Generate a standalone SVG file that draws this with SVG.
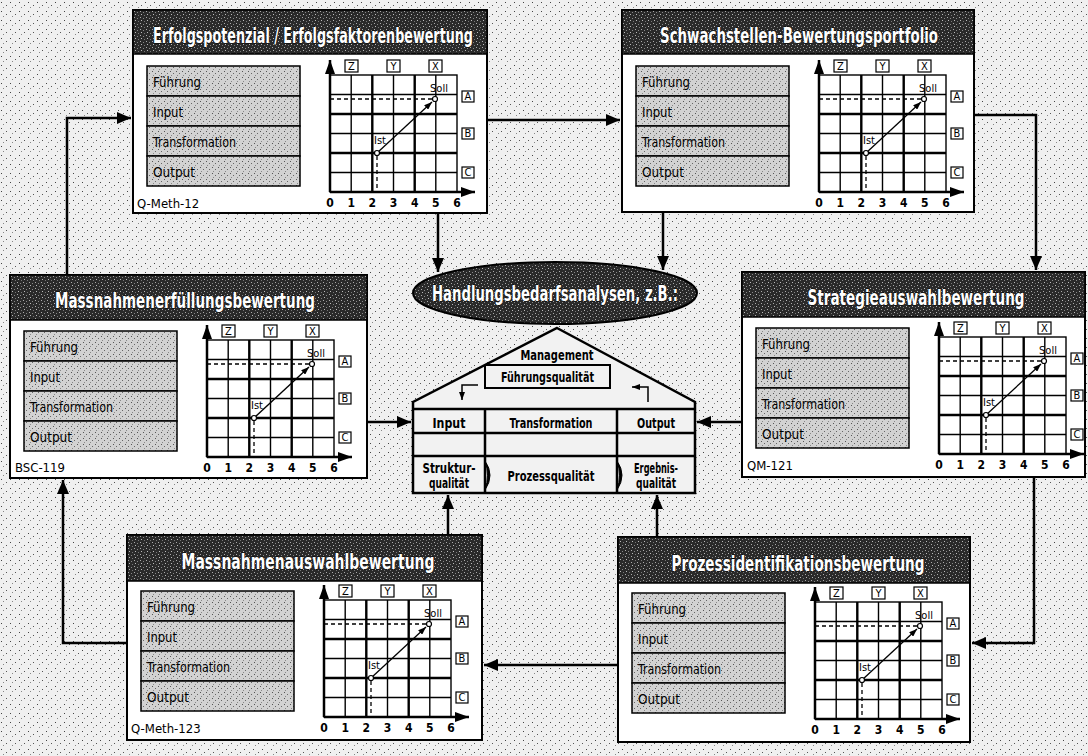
<svg xmlns="http://www.w3.org/2000/svg" xmlns:xlink="http://www.w3.org/1999/xlink" width="1088" height="756" viewBox="0 0 1088 756">
<style>
.txt{font-family:"Liberation Sans Narrow","DejaVu Sans Condensed","Liberation Sans",sans-serif}
.frame{fill:#fff;stroke:#000;stroke-width:2}
.hdr{fill:url(#dk);stroke:#000;stroke-width:1.5}
.title{font-family:"Liberation Sans Narrow","DejaVu Sans Condensed","Liberation Sans",sans-serif;font-weight:bold;font-size:21px;fill:#fff;stroke:#000;stroke-width:1;paint-order:stroke;text-anchor:middle}
.lst{fill:url(#md);stroke:#000;stroke-width:1.5}
.lbl{font-size:14px;fill:#000}
.grid{stroke:#000;stroke-width:1.4;fill:none}
.thick{stroke-width:2.4}
.dash{stroke:#000;stroke-width:1.3;stroke-dasharray:4 3;fill:none}
.box{fill:#fff;stroke:#000;stroke-width:1.2}
.small{font-size:11px;fill:#000}
.mid{text-anchor:middle}
.num{font-size:12px;font-weight:bold;text-anchor:middle;fill:#000}
.foot{font-size:13px;fill:#000}
.conn{stroke:#000;stroke-width:2.5;fill:none}
.hs{font-size:14px;font-weight:bold;fill:#000;text-anchor:middle}
.tl{stroke:#000;stroke-width:2.5;fill:none}
</style>
<defs>
<pattern id="lt" width="9" height="9" patternUnits="userSpaceOnUse">
<rect width="9" height="9" fill="#f0f0f0"/>
<rect x="1" y="2" width="1" height="1" fill="#444"/>
<rect x="6" y="5" width="1" height="1" fill="#555"/>
<rect x="3" y="7" width="1" height="1" fill="#888"/>
</pattern>
<pattern id="md" width="6" height="6" patternUnits="userSpaceOnUse">
<rect width="6" height="6" fill="#d2d2d2"/>
<rect x="1" y="1" width="1" height="1" fill="#555"/>
<rect x="4" y="3" width="1" height="1" fill="#666"/>
<rect x="2" y="5" width="1" height="1" fill="#888"/>
</pattern>
<pattern id="dk" width="6" height="6" patternUnits="userSpaceOnUse">
<rect width="6" height="6" fill="#2a2a2a"/>
<rect x="1" y="1" width="1" height="1" fill="#aaa"/>
<rect x="4" y="2" width="1" height="1" fill="#888"/>
<rect x="2" y="4" width="1" height="1" fill="#bbb"/>
<rect x="5" y="5" width="1" height="1" fill="#777"/>
</pattern>
<marker id="arr" markerUnits="userSpaceOnUse" markerWidth="14" markerHeight="12" refX="14" refY="6" orient="auto">
<path d="M0,0 L14,6 L0,12 Z" fill="#000"/>
</marker>
<marker id="ax" markerUnits="userSpaceOnUse" markerWidth="14" markerHeight="10" refX="14" refY="5" orient="auto">
<path d="M0,0 L14,5 L0,10 Z" fill="#000"/>
</marker>
<marker id="sm" markerUnits="userSpaceOnUse" markerWidth="8" markerHeight="6" refX="8" refY="3" orient="auto">
<path d="M0,0 L8,3 L0,6 Z" fill="#000"/>
</marker>
<g id="body" class="txt">
<rect class="lst" x="14" y="56" width="153" height="30"/>
<rect class="lst" x="14" y="86" width="153" height="30"/>
<rect class="lst" x="14" y="116" width="153" height="30"/>
<rect class="lst" x="14" y="146" width="153" height="30"/>
<text class="lbl" x="20" y="77" textLength="48" lengthAdjust="spacingAndGlyphs">Führung</text>
<text class="lbl" x="20" y="107" textLength="30" lengthAdjust="spacingAndGlyphs">Input</text>
<text class="lbl" x="20" y="137" textLength="83" lengthAdjust="spacingAndGlyphs">Transformation</text>
<text class="lbl" x="20" y="167" textLength="42" lengthAdjust="spacingAndGlyphs">Output</text>
<rect class="grid" x="197" y="65" width="127" height="117"/>
<path class="grid" d="M218.2,65 V182 M260.5,65 V182 M302.8,65 V182 M197,84.5 H324 M197,123.5 H324 M197,162.5 H324"/>
<path class="grid thick" d="M239.3,65 V182 M281.7,65 V182 M197,104 H324 M197,143 H324"/>
<path class="dash" d="M197,89 H299 M244,146 V182"/>
<line x1="197" y1="182" x2="197" y2="50" stroke="#000" stroke-width="2.5" marker-end="url(#ax)"/>
<line x1="197" y1="182" x2="342" y2="182" stroke="#000" stroke-width="2.5" marker-end="url(#ax)"/>
<line x1="244" y1="143" x2="299" y2="92" stroke="#000" stroke-width="1.3" marker-end="url(#sm)"/>
<circle cx="244" cy="143" r="2.5" fill="#fff" stroke="#000" stroke-width="1.2"/>
<circle cx="302" cy="89" r="2.5" fill="#fff" stroke="#000" stroke-width="1.2"/>
<text class="small" x="241" y="134">Ist</text>
<text class="small mid" x="306" y="82">Soll</text>
<rect class="box" x="212" y="50" width="13" height="12"/>
<rect class="box" x="254" y="50" width="13" height="12"/>
<rect class="box" x="296" y="50" width="13" height="12"/>
<text class="small mid" x="218.5" y="60">Z</text>
<text class="small mid" x="260.5" y="60">Y</text>
<text class="small mid" x="302.5" y="60">X</text>
<rect class="box" x="329" y="81" width="12" height="11"/>
<rect class="box" x="329" y="118" width="12" height="11"/>
<rect class="box" x="329" y="157" width="12" height="11"/>
<text class="small mid" x="335" y="90">A</text>
<text class="small mid" x="335" y="127">B</text>
<text class="small mid" x="335" y="166">C</text>
<text class="num" x="197" y="197">0</text>
<text class="num" x="218.2" y="197">1</text>
<text class="num" x="239.3" y="197">2</text>
<text class="num" x="260.5" y="197">3</text>
<text class="num" x="281.7" y="197">4</text>
<text class="num" x="302.8" y="197">5</text>
<text class="num" x="324" y="197">6</text>
</g>
</defs>
<rect width="1088" height="756" fill="url(#lt)"/>

<g id="connectors">
<path class="conn" d="M67,275 V118 H131" marker-end="url(#arr)"/>
<path class="conn" d="M487,120 H620" marker-end="url(#arr)"/>
<path class="conn" d="M974,115 H1036 V270" marker-end="url(#arr)"/>
<path class="conn" d="M1034,477 V643 H972" marker-end="url(#arr)"/>
<path class="conn" d="M618,665 H484" marker-end="url(#arr)"/>
<path class="conn" d="M127,643 H63 V480" marker-end="url(#arr)"/>
<path class="conn" d="M438,213 V272" marker-end="url(#arr)"/>
<path class="conn" d="M663,212 V270" marker-end="url(#arr)"/>
<path class="conn" d="M367,422 H411" marker-end="url(#arr)"/>
<path class="conn" d="M742,422 H697" marker-end="url(#arr)"/>
<path class="conn" d="M448,535 V495" marker-end="url(#arr)"/>
<path class="conn" d="M657,537 V495" marker-end="url(#arr)"/>
</g>

<g id="p1" transform="translate(133,10)">
<rect class="frame" width="354" height="203"/>
<rect class="hdr" width="354" height="44"/>
<text class="title" x="180" y="33" textLength="320" lengthAdjust="spacingAndGlyphs">Erfolgspotenzial / Erfolgsfaktorenbewertung</text>
<use xlink:href="#body" href="#body"/>
<text class="foot txt" x="4" y="198">Q-Meth-12</text>
</g>

<g id="p2" transform="translate(622,10)">
<rect class="frame" width="352" height="202"/>
<rect class="hdr" width="352" height="44"/>
<text class="title" x="177" y="33" textLength="278" lengthAdjust="spacingAndGlyphs">Schwachstellen-Bewertungsportfolio</text>
<use xlink:href="#body" href="#body"/>
</g>

<g id="p3" transform="translate(10,275)">
<rect class="frame" width="357" height="203"/>
<rect class="hdr" width="357" height="45"/>
<text class="title" x="175" y="33" textLength="260" lengthAdjust="spacingAndGlyphs">Massnahmenerfüllungsbewertung</text>
<use xlink:href="#body" href="#body"/>
<text class="foot txt" x="5" y="197">BSC-119</text>
</g>

<g id="p4" transform="translate(742,272)">
<rect class="frame" width="343" height="205"/>
<rect class="hdr" width="343" height="45"/>
<text class="title" x="174" y="33" font-size="20" textLength="217" lengthAdjust="spacingAndGlyphs">Strategieauswahlbewertung</text>
<use xlink:href="#body" href="#body"/>
<text class="foot txt" x="5" y="198">QM-121</text>
</g>

<g id="p5" transform="translate(127,535)">
<rect class="frame" width="355" height="205"/>
<rect class="hdr" width="355" height="46"/>
<text class="title" x="181" y="34" textLength="253" lengthAdjust="spacingAndGlyphs">Massnahmenauswahlbewertung</text>
<use xlink:href="#body" href="#body"/>
<text class="foot txt" x="4" y="198">Q-Meth-123</text>
</g>

<g id="p6" transform="translate(618,537)">
<rect class="frame" width="352" height="205"/>
<rect class="hdr" width="352" height="46"/>
<text class="title" x="180" y="34" textLength="253" lengthAdjust="spacingAndGlyphs">Prozessidentifikationsbewertung</text>
<use xlink:href="#body" href="#body"/>
</g>

<g id="ellipse">
<ellipse cx="555" cy="293" rx="142" ry="31" fill="url(#dk)" stroke="#000" stroke-width="2"/>
<text class="title" x="555" y="301" font-size="22" textLength="246" lengthAdjust="spacingAndGlyphs">Handlungsbedarfsanalysen, z.B.:</text>
</g>

<g id="house" class="txt">
<polygon points="557,328 695,402 695,493 413,493 413,402" fill="#f2f2f2" stroke="#000" stroke-width="2.5"/>
<path class="tl" d="M413,409 H695 M413,433 H695 M413,456 H695 M485,409 V493 M617,409 V493"/>
<text class="hs" x="557" y="360" textLength="73" lengthAdjust="spacingAndGlyphs">Management</text>
<rect x="485" y="365" width="125" height="23" fill="#f2f2f2" stroke="#000" stroke-width="2"/>
<text class="hs" x="547.5" y="382" textLength="93" lengthAdjust="spacingAndGlyphs">Führungsqualität</text>
<path d="M478,385 H462 V400" stroke="#000" stroke-width="1.5" fill="none" marker-end="url(#sm)"/>
<path d="M648,402 V387 H632" stroke="#000" stroke-width="1.5" fill="none" marker-end="url(#sm)"/>
<text class="hs" x="449" y="428" textLength="33" lengthAdjust="spacingAndGlyphs">Input</text>
<text class="hs" x="551" y="428" textLength="83" lengthAdjust="spacingAndGlyphs">Transformation</text>
<text class="hs" x="656" y="428" textLength="38" lengthAdjust="spacingAndGlyphs">Output</text>
<text class="hs" x="449" y="473" textLength="53" lengthAdjust="spacingAndGlyphs">Struktur-</text>
<text class="hs" x="449" y="488" textLength="40" lengthAdjust="spacingAndGlyphs">qualität</text>
<text class="hs" x="551" y="481" textLength="87" lengthAdjust="spacingAndGlyphs">Prozessqualität</text>
<text class="hs" x="656" y="473" textLength="44" lengthAdjust="spacingAndGlyphs">Ergebnis-</text>
<text class="hs" x="656" y="488" textLength="40" lengthAdjust="spacingAndGlyphs">qualität</text>
<path d="M485,461 Q495,475 485,490 Q490,475 485,461 Z" fill="#000" stroke="#000" stroke-width="1"/>
<path d="M617,461 Q627,475 617,490 Q622,475 617,461 Z" fill="#000" stroke="#000" stroke-width="1"/>
</g>
</svg>
